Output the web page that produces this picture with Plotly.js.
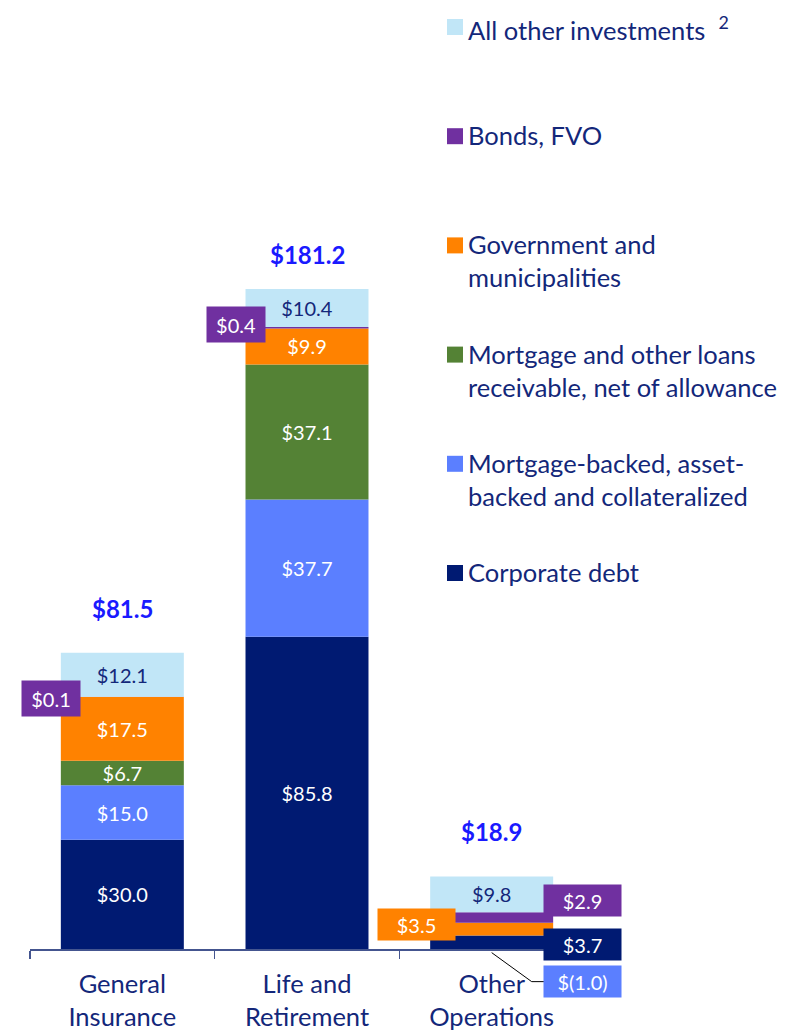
<!DOCTYPE html>
<html><head><meta charset="utf-8">
<script src="https://cdn.plot.ly/plotly-3.0.1.min.js"></script>
<style>html,body{margin:0;padding:0;background:#fff}</style>
</head><body><div id="chart" style="width:799px;height:1033px"></div>
<script>
// ---- data ----
const categories = ["General<br>Insurance", "Life and<br>Retirement", "Other<br>Operations"];
const corporateDebt  = [30.0, 85.8, 3.7];
const mortgageBacked = [15.0, 37.7, -1.0];
const mortgageLoans  = [6.7, 37.1, 0];
const government     = [17.5, 9.9, 3.5];
const bondsFVO       = [0.1, 0.4, 2.9];
const allOther       = [12.1, 10.4, 9.8];
const totals         = [81.5, 181.2, 18.9];
const seriesNames = [
  "Corporate debt",
  "Mortgage-backed, asset-<br>backed and collateralized",
  "Mortgage and other loans<br>receivable, net of allowance",
  "Government and<br>municipalities",
  "Bonds, FVO",
  "All other investments  <sup>2</sup>"
];

// ---- styles ----
const FONT = "Lato, 'Noto Sans', sans-serif";
const NAVY = "#13277a";
const colors = ["#001a72", "#5b7fff", "#548235", "#ff8200", "#7030a0", "#c1e6f7"];
const textColors = ["#ffffff", "#ffffff", "#ffffff", "#ffffff", "#ffffff", NAVY];
const W = 799, H = 1033, ML = 30, MR = 215, MT = 20, MB = 84;
const PW = W - ML - MR, PH = H - MT - MB;
const PXPERUNIT = 3.64;
const yMax = PH / PXPERUNIT;

const series = [corporateDebt, mortgageBacked, mortgageLoans, government, bondsFVO, allOther];
const fmt = v => v < 0 ? "$(" + Math.abs(v).toFixed(1) + ")" : "$" + v.toFixed(1);

// labels drawn in boxes instead of inside the bar: [seriesIndex, categoryIndex, xshift, yshift, w, h]
const boxed = [
  [4, 0, -71.5, -2, 58, 35],
  [4, 1, -71.5, 3, 58, 35],
  [4, 2, 91, 17, 77, 31],
  [3, 2, -75, 5, 77, 31],
  [0, 2, 91, -2, 77, 31]
];
const negBox = [1, 2, 91, -32, 77, 31];
const isBoxed = (s, c) => boxed.concat([negBox]).some(b => b[0] === s && b[1] === c);

const traces = series.map((vals, s) => ({
  type: "bar",
  name: seriesNames[s],
  x: categories,
  y: vals,
  marker: {color: colors[s], line: {width: 0}},
  text: vals.map((v, c) => (v === 0 || isBoxed(s, c)) ? "" : fmt(v)),
  textposition: "inside",
  insidetextanchor: "middle",
  textangle: 0,
  insidetextfont: {family: FONT, size: 20, color: textColors[s]},
  hoverinfo: "skip",
  showlegend: false,
  cliponaxis: false
}));

function cumMid(s, c) {
  const v = series[s][c];
  let base = 0;
  for (let i = 0; i < s; i++) {
    const w = series[i][c];
    if ((w >= 0) === (v >= 0)) base += w;
  }
  return base + v / 2;
}
function posSum(c) {
  return series.reduce((a, arr) => a + (arr[c] > 0 ? arr[c] : 0), 0);
}

const annotations = [];
boxed.forEach(([s, c, xs, ys, w, h]) => {
  annotations.push({
    x: categories[c], y: cumMid(s, c), xref: "x", yref: "y",
    text: fmt(series[s][c]), showarrow: false,
    bgcolor: colors[s], font: {family: FONT, size: 20, color: "#ffffff"},
    width: w, height: h, borderpad: 0, xshift: xs, yshift: ys, valign: "middle"
  });
});
// negative value label: anchored at the zero line and shifted below
{
  const [s, c, xs, ys, w, h] = negBox;
  annotations.push({
    x: categories[c], y: 0, xref: "x", yref: "y",
    text: fmt(series[s][c]), showarrow: false,
    bgcolor: colors[s], font: {family: FONT, size: 20, color: "#ffffff"},
    width: w, height: h, borderpad: 0, xshift: xs, yshift: ys, valign: "middle"
  });
}
const totalShift = [44, 35, 45];
totals.forEach((t, c) => {
  annotations.push({
    x: categories[c], y: posSum(c), xref: "x", yref: "y",
    text: "<b>$" + t.toFixed(1) + "</b>", showarrow: false,
    font: {family: FONT, size: 24, color: "#1a1aff"},
    yanchor: "middle", yshift: totalShift[c]
  });
});

// custom legend (top to bottom = reverse of stacking order)
const px2x = px => (px - ML) / PW;
const py2y = py => (H - MB - py) / PH;
const shapes = [];
const LEG_X = 447, LEG_Y0 = 27, LEG_DY = 109.2, SQ = 16;
for (let i = 0; i < 6; i++) {
  const s = 5 - i;
  const cy = LEG_Y0 + i * LEG_DY;
  shapes.push({
    type: "rect", xref: "paper", yref: "paper",
    x0: px2x(LEG_X), x1: px2x(LEG_X + SQ), y0: py2y(cy + SQ / 2), y1: py2y(cy - SQ / 2),
    fillcolor: colors[s], line: {width: 0}
  });
  annotations.push({
    x: px2x(LEG_X + 20), y: py2y(cy - 17), xref: "paper", yref: "paper",
    xanchor: "left", yanchor: "top", align: "left",
    text: seriesNames[s], showarrow: false, borderpad: 0,
    font: {family: FONT, size: 25.5, color: NAVY}
  });
}
// leader line for the negative label (anchored at the Other Operations bar, value -1.0)
shapes.push({
  type: "path", xref: "paper", yref: "paper", xsizemode: "pixel", ysizemode: "pixel",
  xanchor: (2 + 0.5) / categories.length, yanchor: mortgageBacked[2] / yMax,
  path: "M0,0 L40,-29 L53,-29", line: {color: "#000000", width: 1}
});

const layout = {
  width: W, height: H,
  margin: {l: ML, r: MR, t: MT, b: MB},
  paper_bgcolor: "#ffffff", plot_bgcolor: "#ffffff",
  barmode: "relative", bargap: 0.334,
  showlegend: false,
  uniformtext: {minsize: 20, mode: "show"},
  font: {family: FONT, color: NAVY},
  xaxis: {
    type: "category", range: [-0.5, 2.5],
    showline: true, linecolor: "#44558f", linewidth: 1.5,
    ticks: "outside", tickson: "boundaries", ticklen: 8, tickcolor: "#44558f", tickwidth: 1.5,
    ticklabelstandoff: 12,
    tickfont: {family: FONT, size: 25.5, color: NAVY},
    showgrid: false, zeroline: false, layer: "below traces", fixedrange: true
  },
  yaxis: {range: [0, yMax], visible: false, showgrid: false, zeroline: false, fixedrange: true},
  annotations: annotations,
  shapes: shapes
};

Plotly.newPlot("chart", traces, layout, {staticPlot: true, displayModeBar: false});
</script></body></html>
